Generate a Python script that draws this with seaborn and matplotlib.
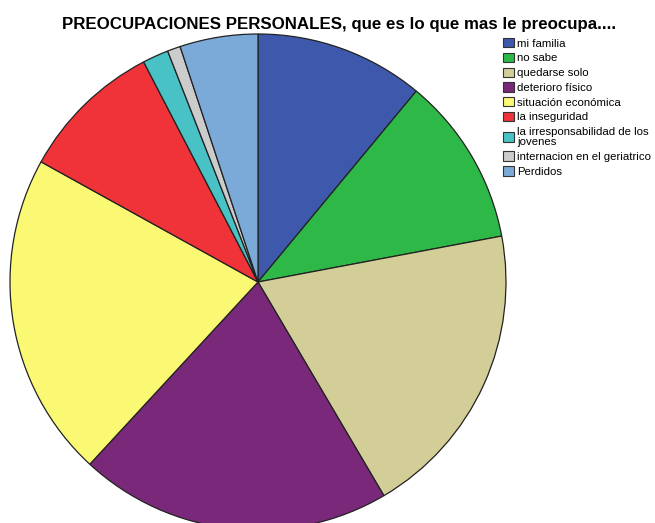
import matplotlib
matplotlib.use("Agg")
import matplotlib.pyplot as plt
import seaborn as sns
from matplotlib.patches import Patch

sns.set_theme(style="white")
plt.rcParams['font.family'] = ['Liberation Sans', 'DejaVu Sans']
plt.rcParams['text.color'] = 'black'

categories = ["mi familia", "no sabe", "quedarse solo", "deterioro físico",
              "situación económica", "la inseguridad",
              "la irresponsabilidad de los\njovenes",
              "internacion en el geriatrico", "Perdidos"]
values = [13, 13, 23, 24, 25, 11, 2, 1, 6]
colors = ["#3e58ac", "#2eb848", "#d3ce97", "#79287a", "#fbf873",
          "#ef3338", "#48c2c5", "#cccccc", "#7ba9d8"]

W, H = 655, 523
fig = plt.figure(figsize=(W / 100, H / 100), dpi=100)
ax = fig.add_axes([0, 0, 1, 1])

ax.pie(values, colors=colors, startangle=90, counterclock=False,
       center=(258, H - 282), radius=248, frame=True,
       wedgeprops=dict(edgecolor="#222222", linewidth=0.9))
ax.set_xlim(0, W)
ax.set_ylim(0, H)
ax.set_aspect("equal")
ax.axis("off")

fig.text(339 / W, 1 - 25 / H,
         "PREOCUPACIONES PERSONALES, que es lo que mas le preocupa....",
         ha="center", va="center", fontsize=12.2, fontweight="bold", color="black")

handles = [Patch(facecolor=c, edgecolor="#333333", linewidth=0.8) for c in colors]
leg = fig.legend(handles, categories, loc="upper left",
                 bbox_to_anchor=(503 / W, 1 - 38 / H), frameon=False,
                 fontsize=8.2, handlelength=0.95, handleheight=0.9,
                 handletextpad=0.3, labelspacing=0.36, borderpad=0,
                 borderaxespad=0)
for t in leg.get_texts():
    t.set_color("black")
    t.set_linespacing(1.1)

fig.savefig("out.png", dpi=100)
